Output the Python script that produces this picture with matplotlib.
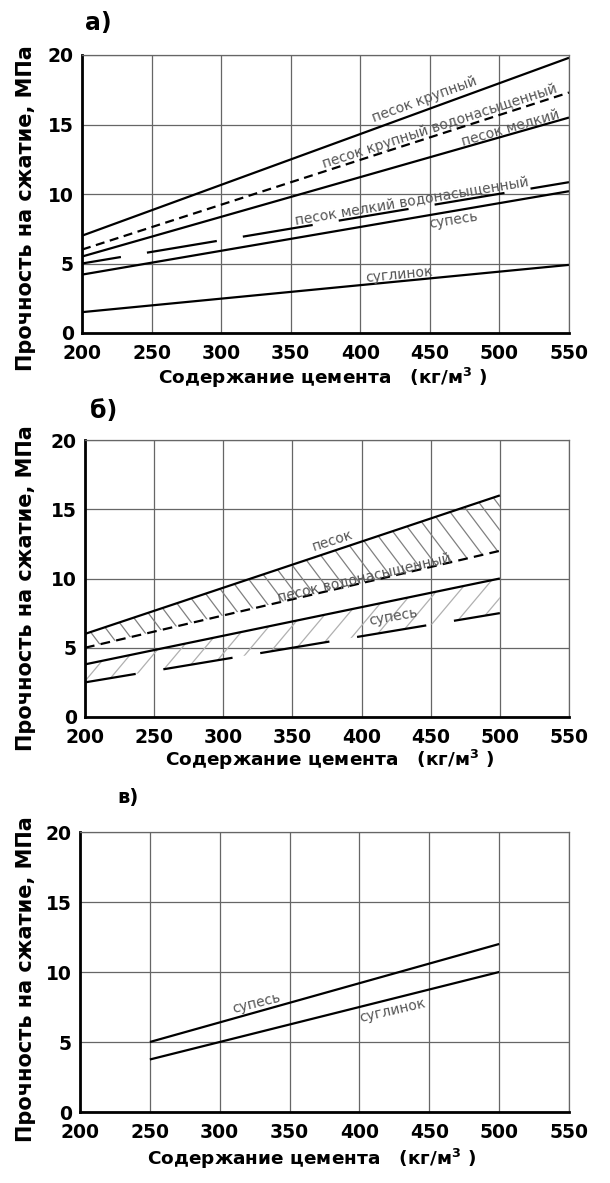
import numpy as np
import matplotlib
matplotlib.use("Agg")
import matplotlib.pyplot as plt

plt.rcParams["lines.scale_dashes"] = False

# cement content, kg/m3
x_a = [200, 550]
x_b = [200, 500]
x_c = [250, 500]

# panel a) strength, MPa
a_pesok_krup = [7.0, 19.8]
a_pesok_krup_w = [6.0, 17.3]
a_pesok_melk = [5.5, 15.5]
a_pesok_melk_w = [5.0, 10.85]
a_supes = [4.2, 10.2]
a_suglinok = [1.5, 4.9]

# panel b)
b_pesok = [6.0, 16.0]
b_pesok_w = [5.0, 12.0]
b_supes_hi = [3.8, 10.0]
b_supes_lo = [2.5, 7.5]

# panel c)
c_supes = [5.0, 12.0]
c_suglinok = [3.75, 10.0]

xticks = [200, 250, 300, 350, 400, 450, 500, 550]
yticks = [0, 5, 10, 15, 20]

ylab = "Прочность на сжатие, МПа"
xlab = "Содержание цемента   (кг/м$^{\\mathbf{3}}$ )"

W, H = 610, 1183
fig = plt.figure(figsize=(W / 100, H / 100), dpi=100)

LBL = dict(color="#555555", fontsize=10, family="DejaVu Sans",
           ha="center", va="center", rotation_mode="anchor")
BIG = dict(fontweight="bold", ha="center", va="center")


def px_axes(l, r, t, b):
    return fig.add_axes([l / W, 1 - b / H, (r - l) / W, (b - t) / H])


def setup(ax):
    ax.set_xlim(200, 550)
    ax.set_ylim(0, 20)
    ax.set_xticks(xticks)
    ax.set_yticks(yticks)
    ax.grid(True, color="#666666", lw=0.9)
    ax.set_axisbelow(True)
    for s in ["top", "right"]:
        ax.spines[s].set_color("#666666")
        ax.spines[s].set_linewidth(0.9)
    for s in ["left", "bottom"]:
        ax.spines[s].set_color("black")
        ax.spines[s].set_linewidth(2.0)
    ax.tick_params(length=0, labelsize=13.5)
    ax.tick_params(axis="x", pad=8)
    ax.tick_params(axis="y", pad=6)
    for t in ax.get_xticklabels() + ax.get_yticklabels():
        t.set_fontweight("bold")


def line(ax, x, y, ls="-"):
    ax.plot(x, y, color="black", lw=1.6, ls=ls, solid_capstyle="butt",
            dash_capstyle="butt")


def hatch_band(ax, x, lo, hi, step_px, angle, color):
    # hand-made hatch: lines every step_px pixels, clipped to the band
    band = ax.fill_between(x, lo, hi, facecolor="none", lw=0)
    p0 = ax.transData.transform((0, 0))
    p1 = ax.transData.transform((1, 1))
    ux, uy = p1 - p0  # pixels per data unit
    slope = np.tan(np.radians(angle)) * ux / uy  # data dy/dx
    run = 20 / slope
    lo_x = min(x) - abs(run) - 20
    for x0 in np.arange(lo_x, max(x) + abs(run) + 20, step_px / ux):
        ln, = ax.plot([x0, x0 + run], [0, 20], color=color, lw=0.9)
        ln.set_clip_path(band.get_paths()[0], ax.transData)


SHORT = (0, (6.5, 4.0))

# ---------- a)
ax = px_axes(82, 569, 55, 333)
setup(ax)
line(ax, x_a, a_pesok_krup)
line(ax, x_a, a_pesok_krup_w, SHORT)
line(ax, x_a, a_pesok_melk)
line(ax, x_a, a_pesok_melk_w, (22.6, (51, 19)))
line(ax, x_a, a_supes)
line(ax, x_a, a_suglinok)
ax.text(446, 16.8, "песок крупный", rotation=20, **LBL)
ax.text(457, 14.9, "песок крупный водонасыщенный", rotation=18, **LBL)
ax.text(508, 14.7, "песок мелкий", rotation=16, **LBL)
ax.text(437, 9.55, "песок мелкий водонасыщенный", rotation=9.5, **LBL)
ax.text(467, 8.1, "супесь", rotation=9, **LBL)
ax.text(428, 4.2, "суглинок", rotation=5.5, **LBL)
fig.text(98 / W, 1 - 23 / H, "а)", fontsize=17, **BIG)
fig.text(26 / W, 1 - 208 / H, ylab, rotation=90, fontsize=15, **BIG)
fig.text(323 / W, 1 - 378 / H, xlab, fontsize=13.3, **BIG)

# ---------- б)
ax = px_axes(85, 569, 440, 717)
setup(ax)
hatch_band(ax, x_b, b_pesok_w, b_pesok, 18, -53, "#808080")
hatch_band(ax, x_b, b_supes_lo, b_supes_hi, 23, 50, "#b0b0b0")
line(ax, x_b, b_pesok)
line(ax, x_b, b_pesok_w, (0, (7, 4.5)))
line(ax, x_b, b_supes_hi)
line(ax, x_b, b_supes_lo, (13.5, (50.5, 20.2)))
ax.text(379, 12.7, "песок", rotation=18, **LBL)
ax.text(402, 10.1, "песок водонасыщенный", rotation=13, **LBL)
ax.text(423, 7.25, "супесь", rotation=10, **LBL)
fig.text(104 / W, 1 - 411 / H, "б)", fontsize=17, **BIG)
fig.text(26 / W, 1 - 588 / H, ylab, rotation=90, fontsize=15, **BIG)
fig.text(330 / W, 1 - 760 / H, xlab, fontsize=13.3, **BIG)

# ---------- в)
ax = px_axes(80, 569, 832, 1112)
setup(ax)
line(ax, x_c, c_supes)
line(ax, x_c, c_suglinok)
ax.text(326, 7.8, "супесь", rotation=14, **LBL)
ax.text(424, 7.25, "суглинок", rotation=13, **LBL)
fig.text(128 / W, 1 - 797 / H, "в)", fontsize=14, **BIG)
fig.text(26 / W, 1 - 979 / H, ylab, rotation=90, fontsize=15, **BIG)
fig.text(312 / W, 1 - 1159 / H, xlab, fontsize=13.3, **BIG)

fig.savefig("out.png", dpi=100, facecolor="white")
